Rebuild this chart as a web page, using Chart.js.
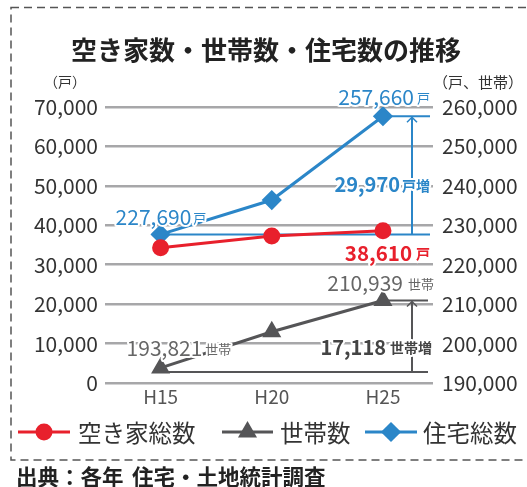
<!DOCTYPE html>
<html><head><meta charset="utf-8">
<script src="https://cdn.jsdelivr.net/npm/chart.js@4"></script>
<style>html,body{margin:0;padding:0;background:#fff;}#wrap{width:527px;height:487px;position:relative;}</style>
</head><body><div id="wrap"><canvas id="c" width="527" height="487"></canvas></div>
<script>
const categories = ['H15', 'H20', 'H25'];
const vacantHomes = [34300, 37300, 38610];      // 空き家総数 (left axis)
const households = [193821, 203000, 210939];    // 世帯数 (right axis)
const totalHomes = [227690, 236400, 257660];    // 住宅総数 (right axis)
const leftTicks = [0, 10000, 20000, 30000, 40000, 50000, 60000, 70000];
const rightTicks = [190000, 200000, 210000, 220000, 230000, 240000, 250000, 260000];
const seriesNames = ['空き家総数', '世帯数', '住宅総数'];

const FONT = '"Noto Sans CJK JP", "Noto Sans", sans-serif';
const RED = '#e8202c', GRAY = '#555557', BLUE = '#2b86c8';
const fmt = v => v.toLocaleString('en-US');
const pts = arr => arr.map((v, i) => ({x: i, y: v}));

function drawParts(ctx, parts, x, y, align) {
  let total = 0;
  parts.forEach(p => { ctx.font = p.font; p.w = ctx.measureText(p.text).width; total += p.w + (p.gap || 0); });
  let cx = align === 'right' ? x - total : x;
  ctx.textBaseline = 'middle';
  ctx.textAlign = 'left';
  parts.forEach(p => {
    cx += (p.gap || 0);
    ctx.font = p.font;
    ctx.lineJoin = 'round';
    ctx.strokeStyle = '#fff'; ctx.lineWidth = 4;
    ctx.strokeText(p.text, cx, y + (p.dy || 0));
    ctx.fillStyle = p.color;
    ctx.fillText(p.text, cx, y + (p.dy || 0));
    cx += p.w;
  });
}

function arrowV(ctx, x, yBottom, yTop, color) {
  ctx.save();
  ctx.strokeStyle = color; ctx.lineWidth = 2;
  ctx.beginPath(); ctx.moveTo(x, yBottom); ctx.lineTo(x, yTop + 1); ctx.stroke();
  ctx.lineWidth = 1.5;
  ctx.beginPath(); ctx.moveTo(x - 5, yTop + 6); ctx.lineTo(x, yTop + 1); ctx.lineTo(x + 5, yTop + 6); ctx.stroke();
  ctx.restore();
}
function hline(ctx, x1, x2, y, color) {
  ctx.save(); ctx.strokeStyle = color; ctx.lineWidth = 2;
  ctx.beginPath(); ctx.moveTo(x1, y); ctx.lineTo(x2, y); ctx.stroke(); ctx.restore();
}

const annot = {
  id: 'annot',
  beforeDraw(chart) {
    const ctx = chart.ctx;
    ctx.save();
    ctx.fillStyle = '#fff'; ctx.fillRect(0, 0, chart.width, chart.height);
    // dashed frame
    ctx.strokeStyle = '#555'; ctx.lineWidth = 1.5; ctx.setLineDash([8, 5]);
    ctx.strokeRect(11, 7.5, 530, 452.5);
    ctx.setLineDash([]);
    // title
    ctx.fillStyle = '#222'; ctx.font = 'bold 26px ' + FONT;
    ctx.textAlign = 'center'; ctx.textBaseline = 'middle';
    ctx.fillText('空き家数・世帯数・住宅数の推移', 266, 50);
    // axis unit labels
    ctx.fillStyle = '#333'; ctx.font = '14px ' + FONT;
    ctx.fillText('（戸）', 65, 82);
    ctx.font = '15px ' + FONT;
    ctx.fillText('（戸、世帯）', 478, 82);
    // source
    ctx.textAlign = 'left'; ctx.fillStyle = '#222'; ctx.font = 'bold 21.5px ' + FONT;
    ctx.fillText('出典：各年', 16, 477);
    ctx.fillText('住宅・土地統計調査', 132, 477);
    ctx.restore();
  },
  beforeDatasetsDraw(chart) {
    const ctx = chart.ctx, xs = chart.scales.x, yr = chart.scales.yR, ca = chart.chartArea;
    const ax = ca.right - 21;
    // total homes increase
    const b0 = yr.getPixelForValue(totalHomes[0]), b1 = yr.getPixelForValue(totalHomes[2]);
    hline(ctx, xs.getPixelForValue(0), ca.right - 3, b0, BLUE);
    hline(ctx, xs.getPixelForValue(2), ca.right - 3, b1, BLUE);
    arrowV(ctx, ax, b0, b1, BLUE);
    // households increase
    const g0 = yr.getPixelForValue(households[0]) + 4, g1 = yr.getPixelForValue(households[2]);
    hline(ctx, xs.getPixelForValue(0) + 5, ca.right - 5, g0, GRAY);
    hline(ctx, xs.getPixelForValue(2) + 4, ca.right - 5, g1, GRAY);
    arrowV(ctx, ax, g0, g1, GRAY);
  },
  afterDatasetsDraw(chart) {
    const ctx = chart.ctx, xs = chart.scales.x, yr = chart.scales.yR, yl = chart.scales.yL, ca = chart.chartArea;
    ctx.save();
    const n = (s, b) => (b ? 'bold ' : '') + s + 'px ' + FONT;
    const incT = totalHomes[2] - totalHomes[0];
    const incH = households[2] - households[0];
    drawParts(ctx, [{text: fmt(totalHomes[2]), font: n(21), color: BLUE}, {text: '戸', font: n(13), color: BLUE, gap: 3, dy: 1}],
      ca.right - 3, yr.getPixelForValue(totalHomes[2]) - 19, 'right');
    drawParts(ctx, [{text: fmt(totalHomes[0]), font: n(21), color: BLUE}, {text: '戸', font: n(13), color: BLUE, gap: 2, dy: 1}],
      xs.getPixelForValue(0) - 45, yr.getPixelForValue(totalHomes[0]) - 17, 'left');
    drawParts(ctx, [{text: fmt(incT), font: n(20, true), color: BLUE}, {text: '戸増', font: n(14, true), color: BLUE, gap: 2, dy: 1}],
      ca.right - 3, yr.getPixelForValue(240000) - 1, 'right');
    drawParts(ctx, [{text: fmt(vacantHomes[2]), font: n(20.5, true), color: RED}, {text: '戸', font: n(14, true), color: RED, gap: 4, dy: 1}],
      ca.right - 3, yl.getPixelForValue(vacantHomes[2]) + 22, 'right');
    drawParts(ctx, [{text: fmt(households[2]), font: n(21), color: '#666'}, {text: '世帯', font: n(13), color: '#666', gap: 5, dy: 1}],
      ca.right + 1, yr.getPixelForValue(households[2]) - 17, 'right');
    drawParts(ctx, [{text: fmt(households[0]), font: n(21), color: '#666'}, {text: '世帯', font: n(13), color: '#666', gap: 3, dy: 1}],
      xs.getPixelForValue(0) - 34, yr.getPixelForValue(households[0]) - 20, 'left');
    drawParts(ctx, [{text: fmt(incH), font: n(20, true), color: '#444'}, {text: '世帯増', font: n(14, true), color: '#444', gap: 4, dy: 1}],
      ca.right - 1, yr.getPixelForValue(households[0]) - 21, 'right');
    ctx.restore();
  },
  afterDraw(chart) {
    const ctx = chart.ctx;
    ctx.save();
    const items = [
      {x1: 18, x2: 70, tx: 78, ds: chart.data.datasets[0]},
      {x1: 222, x2: 273, tx: 280, ds: chart.data.datasets[1]},
      {x1: 365, x2: 417, tx: 423, ds: chart.data.datasets[2]},
    ];
    const y = 432;
    items.forEach(it => {
      const ds = it.ds;
      ctx.strokeStyle = ds.borderColor; ctx.lineWidth = 3;
      ctx.beginPath(); ctx.moveTo(it.x1, y); ctx.lineTo(it.x2, y); ctx.stroke();
      ctx.fillStyle = ds.pointBackgroundColor;
      ctx.strokeStyle = ds.pointBackgroundColor;
      Chart.helpers.drawPoint(ctx, {pointStyle: ds.pointStyle, radius: ds.pointRadius, borderWidth: 1, rotation: 0}, (it.x1 + it.x2) / 2, y);
      ctx.fill();
      ctx.fillStyle = '#333'; ctx.font = '23.5px ' + FONT; ctx.textAlign = 'left'; ctx.textBaseline = 'middle';
      ctx.fillText(ds.label, it.tx, y + 1);
    });
    ctx.restore();
  }
};

new Chart(document.getElementById('c'), {
  type: 'line',
  data: {
    datasets: [
      {label: seriesNames[0], data: pts(vacantHomes), yAxisID: 'yL', borderColor: RED, backgroundColor: RED,
       pointBackgroundColor: RED, pointBorderColor: RED, pointStyle: 'circle', pointRadius: 7, borderWidth: 3},
      {label: seriesNames[1], data: pts(households), yAxisID: 'yR', borderColor: GRAY, backgroundColor: GRAY,
       pointBackgroundColor: GRAY, pointBorderColor: GRAY, pointStyle: 'triangle', pointRadius: 8, borderWidth: 3},
      {label: seriesNames[2], data: pts(totalHomes), yAxisID: 'yR', borderColor: BLUE, backgroundColor: BLUE,
       pointBackgroundColor: BLUE, pointBorderColor: BLUE, pointStyle: 'rectRot', pointRadius: 8, borderWidth: 3},
    ]
  },
  options: {
    responsive: false, animation: false, locale: 'en-US',
    layout: {padding: {left: 0, right: 0, top: 107, bottom: 74}},
    plugins: {legend: {display: false}, tooltip: {enabled: false}, title: {display: false}},
    scales: {
      x: {
        type: 'linear', min: -0.5, max: 2.45,
        afterBuildTicks: s => { s.ticks = categories.map((c, i) => ({value: i})); },
        afterFit: s => { s.height = 30; },
        ticks: {callback: v => categories[v], color: '#555', font: {family: FONT, size: 19}, padding: 2, maxRotation: 0, autoSkip: false},
        grid: {display: false, drawTicks: false}, border: {display: false}
      },
      yL: {
        position: 'left', min: 0, max: 70000,
        afterBuildTicks: s => { s.ticks = leftTicks.map(v => ({value: v})); },
        afterFit: s => { s.width = 105; },
        ticks: {color: '#333', font: {family: FONT, size: 21}, padding: 7},
        grid: {color: '#a7a7a9', lineWidth: 2.6, drawTicks: false}, border: {display: false}
      },
      yR: {
        position: 'right', min: 190000, max: 260000,
        afterBuildTicks: s => { s.ticks = rightTicks.map(v => ({value: v})); },
        afterFit: s => { s.width = 94; },
        ticks: {color: '#333', font: {family: FONT, size: 21}, padding: 9},
        grid: {display: false, drawTicks: false}, border: {display: false}
      }
    }
  },
  plugins: [annot]
});
</script>
</body></html>
